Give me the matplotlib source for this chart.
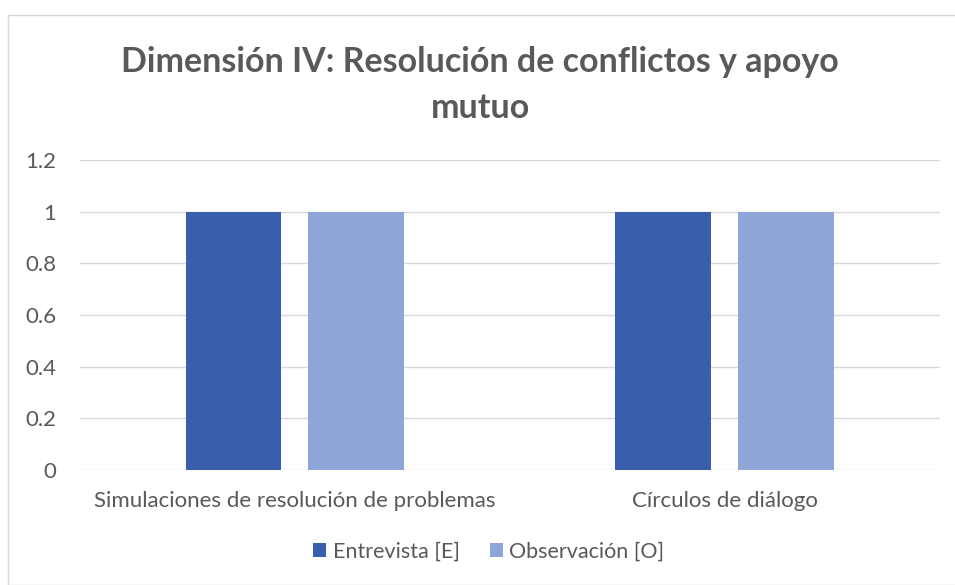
import matplotlib.pyplot as plt
from matplotlib.patches import Rectangle
import numpy as np

# datos del grafico
categorias = ["Simulaciones de resolución de problemas", "Círculos de diálogo"]
entrevista = [1, 1]
observacion = [1, 1]
series = ["Entrevista [E]", "Observación [O]"]
yticks = [0, 0.2, 0.4, 0.6, 0.8, 1, 1.2]
ytick_labels = ["0", "0.2", "0.4", "0.6", "0.8", "1", "1.2"]

plt.rcParams['font.family'] = ['Lato', 'DejaVu Sans']
gris = "#595959"

fig = plt.figure(figsize=(9.55, 5.85), dpi=100)
ax = fig.add_axes([0.0838, 0.1966, 0.9002, 0.5299])

x = np.arange(len(categorias))
ancho = 0.223
ax.bar(x - 0.143, entrevista, ancho, color="#3A5EAE", label=series[0], zorder=3)
ax.bar(x + 0.143, observacion, ancho, color="#8FA4D7", label=series[1], zorder=3)

ax.set_xlim(-0.5, 1.5)
ax.set_ylim(0, 1.2)
ax.set_yticks(yticks)
ax.set_yticklabels(ytick_labels)
ax.set_xticks(x)
ax.set_xticklabels(categorias)
ax.tick_params(axis="both", length=0, labelsize=16, colors=gris)
ax.tick_params(axis="y", pad=17)
ax.tick_params(axis="x", pad=15)
ax.grid(axis="y", color="#D9D9D9", linewidth=1, zorder=0)
for s in ax.spines.values():
    s.set_visible(False)

fig.text(0.503, 0.855, "Dimensión IV: Resolución de conflictos y apoyo\nmutuo",
         ha="center", va="center", fontsize=24.5, fontweight="bold", color=gris,
         linespacing=1.55)

fig.legend(loc="center", bbox_to_anchor=(0.512, 0.057), ncol=2, frameon=False,
           fontsize=15.5, labelcolor=gris, handlelength=0.6, handleheight=0.6,
           handletextpad=0.3, columnspacing=1.4)

# borde del grafico
fig.patches.append(Rectangle((8 / 955, 0), 1, 1 - 15 / 585, transform=fig.transFigure,
                             fill=False, edgecolor="#D9D9D9", linewidth=1))

fig.savefig("out.png", dpi=100)
